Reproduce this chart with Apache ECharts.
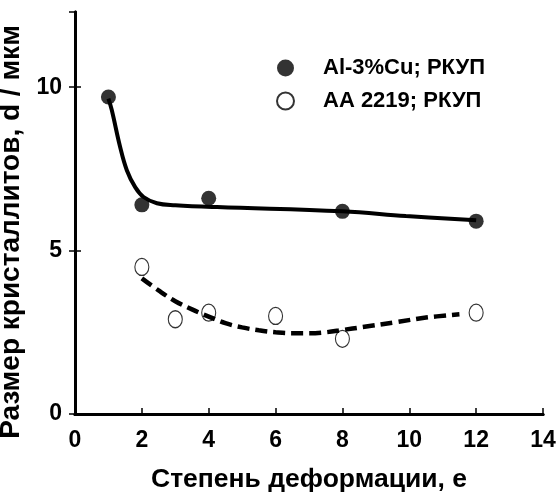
<!DOCTYPE html>
<html>
<head>
<meta charset="utf-8">
<script src="https://cdn.jsdelivr.net/npm/echarts@6/dist/echarts.min.js"></script>
<style>
  html, body { margin: 0; padding: 0; background: #fff; }
  #chart { width: 560px; height: 495px; }
</style>
</head>
<body>
<div id="chart"></div>
<script>
  // measured points
  var eAlCu = [1, 2, 4, 8, 12];
  var dAlCu = [9.7, 6.4, 6.6, 6.2, 5.9];
  var eAA = [2, 3, 4, 6, 8, 12];
  var dAA = [4.5, 2.9, 3.1, 3.0, 2.3, 3.1];

  // fitted curves
  var fitAlCuX = [1, 1.1, 1.35, 1.55, 1.8, 2.05, 2.45, 3, 4.25, 8, 9.9, 12];
  var fitAlCuY = [9.65, 9.3, 8.17, 7.46, 6.94, 6.64, 6.45, 6.39, 6.33, 6.2, 6.06, 5.93];
  var fitAAX = [2, 2.5, 3, 3.5, 4, 4.5, 5, 5.5, 6, 6.5, 7, 7.5, 8, 8.6, 9.6, 10.5, 11.5];
  var fitAAY = [4.15, 3.78, 3.45, 3.2, 2.98, 2.78, 2.65, 2.56, 2.5, 2.47, 2.47, 2.5, 2.57, 2.66, 2.81, 2.95, 3.05];

  var names = ['Al-3%Cu; РКУП', 'AA 2219; РКУП'];

  function pairs(xs, ys) {
    return xs.map(function (x, i) { return [x, ys[i]]; });
  }

  var font = '"Liberation Sans", Arial, sans-serif';
  var chart = echarts.init(document.getElementById('chart'));

  var option = {
    animation: false,
    backgroundColor: '#fff',
    grid: { left: 75, right: 17, top: 12, bottom: 81, outerBoundsMode: 'none' },
    legend: {
      data: names,
      orient: 'vertical',
      left: 271,
      top: 52,
      itemWidth: 17,
      itemHeight: 17,
      itemGap: 11,
      selectedMode: false,
      textStyle: { fontFamily: font, fontSize: 22, fontWeight: 'bold', color: '#000', padding: [0, 0, 0, 24] }
    },
    xAxis: [{
      type: 'value',
      min: 0, max: 14, interval: 2,
      name: 'Степень деформации, e',
      nameLocation: 'middle',
      nameGap: 52,
      nameTextStyle: { fontFamily: font, fontSize: 26.5, fontWeight: 'bold', color: '#000' },
      axisLine: { lineStyle: { color: '#000', width: 3 } },
      axisTick: { inside: true, length: 6, lineStyle: { color: '#000', width: 1.5 } },
      axisLabel: { margin: 15, fontFamily: font, fontSize: 23, fontWeight: 'bold', color: '#000' },
      splitLine: { show: false }
    }, {
      type: 'value', position: 'top',
      min: 0, max: 14,
      axisLine: { lineStyle: { color: '#000', width: 3 } },
      axisTick: { show: false }, axisLabel: { show: false }, splitLine: { show: false }
    }],
    yAxis: [{
      type: 'value',
      min: 0, max: 12.3, interval: 5,
      name: 'Размер кристаллитов, d / мкм',
      nameLocation: 'middle',
      nameGap: 34,
      nameRotate: 90,
      nameTextStyle: { fontFamily: font, fontSize: 28, fontWeight: 'bold', color: '#000', padding: [0, 38, 0, 0] },
      axisLine: { lineStyle: { color: '#000', width: 3 } },
      axisTick: { inside: true, length: 6, lineStyle: { color: '#000', width: 1.5 } },
      axisLabel: { margin: 13, showMaxLabel: false, fontFamily: font, fontSize: 23, fontWeight: 'bold', color: '#000' },
      splitLine: { show: false }
    }, {
      type: 'value', position: 'right',
      min: 0, max: 12.3, interval: 5,
      axisLine: { show: true, lineStyle: { color: '#000', width: 3 } },
      axisTick: { show: true, inside: true, length: 6, lineStyle: { color: '#000', width: 1.5 } },
      axisLabel: { show: false }, splitLine: { show: false }
    }],
    series: [
      {
        name: names[0],
        type: 'scatter',
        data: pairs(eAlCu, dAlCu),
        symbol: 'circle',
        symbolSize: 15,
        itemStyle: { color: '#000' },
        z: 3
      },
      {
        name: names[1],
        type: 'scatter',
        data: pairs(eAA, dAA),
        symbol: 'circle',
        symbolSize: [14, 17],
        itemStyle: { color: '#fff', borderColor: '#000', borderWidth: 1.2 },
        z: 3
      },
      {
        name: 'fit1',
        type: 'line',
        data: pairs(fitAlCuX, fitAlCuY),
        smooth: 0.4,
        showSymbol: false,
        lineStyle: { color: '#000', width: 4 },
        z: 4
      },
      {
        name: 'fit2',
        type: 'line',
        data: pairs(fitAAX, fitAAY),
        smooth: 0.4,
        showSymbol: false,
        lineStyle: { color: '#000', width: 4.5, type: [12, 6] },
        z: 4
      }
    ]
  };

  chart.setOption(option);
</script>
</body>
</html>
